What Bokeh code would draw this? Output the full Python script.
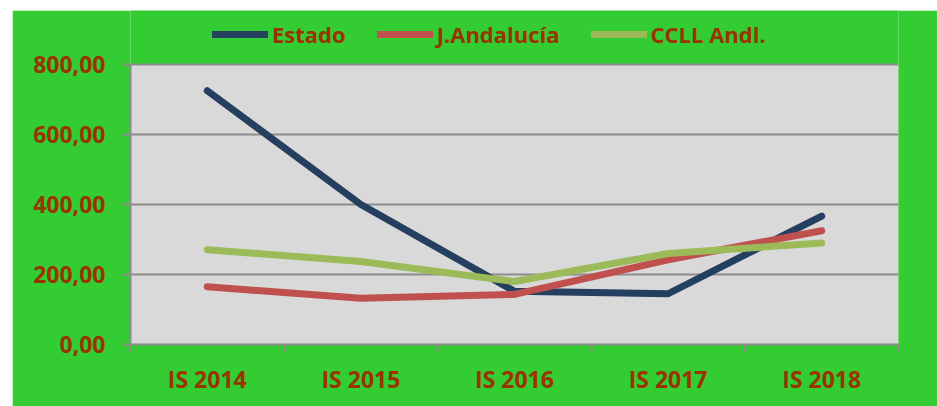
from bokeh.plotting import figure
from bokeh.models import FixedTicker, Legend, LegendItem, Spacer, ColumnDataSource, BoxAnnotation
from bokeh.layouts import row, column
from bokeh.embed import file_html
from bokeh.resources import INLINE

categories = ["IS 2014", "IS 2015", "IS 2016", "IS 2017", "IS 2018"]
estado = [725, 400, 152, 145, 367]
junta = [165, 132, 143, 242, 325]
ccll = [271, 237, 180, 260, 290]
series_names = ["Estado", "J.Andalucía", "CCLL Andl."]
series_colors = ["#243F60", "#C0504D", "#9BBB59"]
y_ticks = [0, 200, 400, 600, 800]
y_tick_labels = ["0,00", "200,00", "400,00", "600,00", "800,00"]

GREEN = "#33CC33"
TXT = "#993300"
GRAY = "#8C8C8C"
FONT = "Open Sans"

x_pos = [i + 0.5 for i in range(len(categories))]

# plot area (0..800) occupies 280px; frame extends 54px above it for the legend
y_top = y_ticks[-1] * 334 / 280

p = figure(width=925, height=396, output_backend="svg", toolbar_location=None,
           x_range=(0, len(categories)), y_range=(y_ticks[0], y_top),
           min_border_left=118, min_border_right=39, min_border_top=0, min_border_bottom=62)
p.background_fill_color = GREEN
p.border_fill_color = GREEN
p.outline_line_color = None

p.add_layout(BoxAnnotation(bottom=y_ticks[0], top=y_ticks[-1], fill_color="#D9D9D9",
                           fill_alpha=1, line_color=None, level="image"))

# axes
p.xaxis.ticker = FixedTicker(ticks=x_pos, minor_ticks=list(range(len(categories) + 1)))
p.xaxis.major_label_overrides = {x: c for x, c in zip(x_pos, categories)}
p.xaxis.major_tick_line_color = None
p.xaxis.major_tick_out = 0
p.xaxis.major_tick_in = 0
p.xaxis.minor_tick_line_color = GRAY
p.xaxis.minor_tick_line_width = 2
p.xaxis.minor_tick_out = 8
p.xaxis.minor_tick_in = 0
p.xaxis.major_label_standoff = 10

p.yaxis.ticker = FixedTicker(ticks=y_ticks, minor_ticks=[])
p.yaxis.bounds = (y_ticks[0], y_ticks[-1])
p.yaxis.major_label_overrides = {t: l for t, l in zip(y_ticks, y_tick_labels)}
p.yaxis.major_tick_line_color = GRAY
p.yaxis.major_tick_line_width = 2
p.yaxis.major_tick_out = 8
p.yaxis.major_tick_in = 0
p.yaxis.major_label_standoff = 17

for ax in (p.xaxis, p.yaxis):
    ax.axis_line_color = GRAY
    ax.axis_line_width = 2
    ax.major_label_text_color = TXT
    ax.major_label_text_font = FONT
    ax.major_label_text_font_style = "bold"
    ax.major_label_text_font_size = "23px"

p.xgrid.grid_line_color = None
p.ygrid.ticker = FixedTicker(ticks=y_ticks[1:])
p.ygrid.grid_line_color = GRAY
p.ygrid.grid_line_width = 2

items = []
for name, vals, col in zip(series_names, [estado, junta, ccll], series_colors):
    src = ColumnDataSource(dict(x=x_pos, y=vals))
    r = p.line("x", "y", source=src, line_color=col, line_width=7,
               line_cap="round", line_join="round")
    items.append(LegendItem(label=name, renderers=[r]))

legend = Legend(items=items, orientation="horizontal", location=(82, 295),
                glyph_width=56, glyph_height=20, label_standoff=4, spacing=31,
                padding=0, margin=0, border_line_color=None, background_fill_alpha=0,
                label_text_color=TXT, label_text_font=FONT, label_text_font_style="bold",
                label_text_font_size="22px")
p.add_layout(legend, "center")

layout = column(Spacer(height=10), row(Spacer(width=12), p))
open("out.html", "w").write(file_html(layout, INLINE))
